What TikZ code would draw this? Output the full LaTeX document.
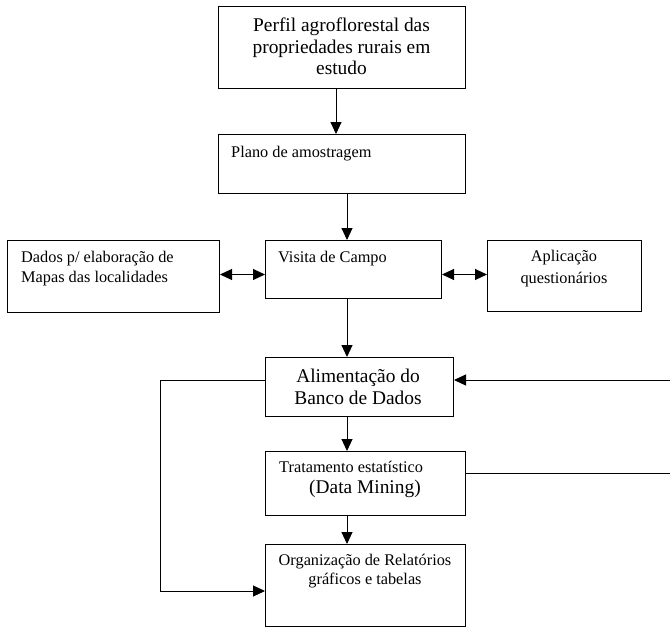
\documentclass[tikz,border=0pt]{standalone}
\usepackage{fontspec}
\setmainfont{Liberation Serif}
\usetikzlibrary{arrows.meta}
\tikzset{
  box/.style={draw, line width=1pt, inner sep=0pt, anchor=north west},
  conn/.style={line width=1pt},
  tip/.tip={Triangle[length=12pt,width=11pt]},
  arr/.style={conn, -tip},
  dbl/.style={conn, tip-tip},
  small/.style={font=\fontsize{16.3}{18}\selectfont, inner sep=0pt},
  big/.style={font=\fontsize{19.4}{22}\selectfont, inner sep=0pt},
}
\begin{document}
\begin{tikzpicture}[x=1pt, y=-1pt]
\useasboundingbox (0,0) rectangle (670,627);

% boxes
\node[box, minimum width=247pt, minimum height=82pt] (perfil) at (218,6) {};
\node[box, minimum width=247pt, minimum height=59pt] (plano) at (218,134) {};
\node[box, minimum width=212pt, minimum height=72pt] (dados) at (7,240) {};
\node[box, minimum width=176pt, minimum height=58pt] (visita) at (265,240) {};
\node[box, minimum width=154pt, minimum height=71pt] (aplic) at (487,240) {};
\node[box, minimum width=188pt, minimum height=59pt] (alim) at (265,357) {};
\node[box, minimum width=200pt, minimum height=64pt] (trat) at (265,451) {};
\node[box, minimum width=200pt, minimum height=82pt] (org) at (265,544) {};

% texts
\node[big, anchor=base] (perfilA) at (341.5,31.8) {Perfil agroflorestal das};
\node[big, anchor=base] (perfilB) at (341.5,53.8) {propriedades rurais em};
\node[big, anchor=base] (perfilC) at (341.5,74.8) {estudo};
\node[small, anchor=base west] (planoA) at (231,157.7) {Plano de amostragem};
\node[small, anchor=base west] (dadosA) at (21,262.7) {Dados p/ elaboração de};
\node[small, anchor=base west] (dadosB) at (21,282) {Mapas das localidades};
\node[small, anchor=base west] (visitaA) at (278,262.3) {Visita de Campo};
\node[small, anchor=base] (aplicA) at (564,261.7) {Aplicação};
\node[small, anchor=base] (aplicB) at (564,283.3) {questionários};
\node[big, anchor=base] (alimA) at (358,382) {Alimentação do};
\node[big, anchor=base] (alimB) at (358,404) {Banco de Dados};
\node[small, anchor=base west] (tratA) at (279,472) {Tratamento estatístico};
\node[big, anchor=base west] (tratB) at (309,493) {(Data Mining)};
\node[small, anchor=base] (orgA) at (365,565) {Organização de Relatórios};
\node[small, anchor=base] (orgB) at (365,584) {gráficos e tabelas};

% connector guide lines
\coordinate (xa) at (336,0);
\coordinate (xb) at (347,0);
\coordinate (yh) at (0,274.5);
\coordinate (lx) at (160,0);
\coordinate (rx) at (671,0);
\coordinate (ylo) at (0,591);
\coordinate (yhi) at (0,380);
\coordinate (ymid) at (0,473.5);

% connectors
\draw[arr] (perfil.south -| xa) -- (plano.north -| xa);
\draw[arr] (plano.south -| xb) -- (visita.north -| xb);
\draw[dbl] (dados.east |- yh) -- (visita.west |- yh);
\draw[dbl] (visita.east |- yh) -- (aplic.west |- yh);
\draw[arr] (visita.south -| xb) -- (alim.north -| xb);
\draw[arr] (alim.south -| xb) -- (trat.north -| xb);
\draw[arr] (trat.south -| xb) -- (org.north -| xb);
\draw[arr] (alim.west |- yhi) -- (lx |- yhi) -- (lx |- ylo) -- (org.west |- ylo);
\draw[arr] (trat.east |- ymid) -- (rx |- ymid) -- (rx |- yhi) -- (alim.east |- yhi);
\end{tikzpicture}
\end{document}
